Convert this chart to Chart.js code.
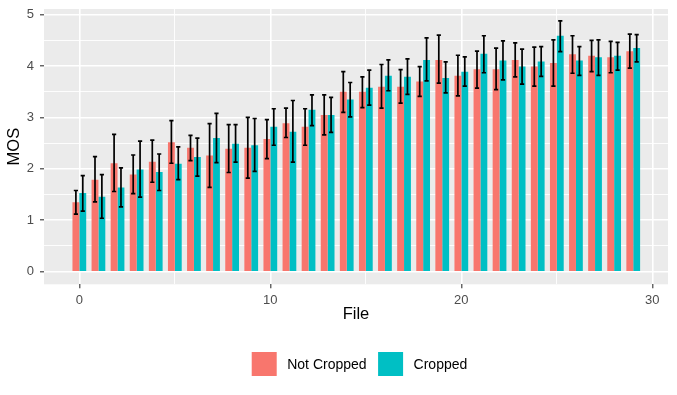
<!DOCTYPE html>
<html>
<head>
<meta charset="utf-8">
<title>MOS per file</title>
<script src="https://cdn.jsdelivr.net/npm/chart.js@4.4.1/dist/chart.umd.min.js"></script>
<style>
    html, body { margin: 0; padding: 0; background: #ffffff; }
    #chart-wrap { width: 677px; height: 395px; }
</style>
</head>
<body>
<div id="chart-wrap"><canvas id="mos-chart" width="677" height="395"></canvas></div>
<script>
// Data
const files = [0, 1, 2, 3, 4, 5, 6, 7, 8, 9, 10, 11, 12, 13, 14, 15, 16, 17, 18, 19, 20, 21, 22, 23, 24, 25, 26, 27, 28, 29];

const notCropped     = [1.35, 1.79, 2.11, 1.89, 2.14, 2.52, 2.41, 2.26, 2.39, 2.41, 2.58, 2.89, 2.82, 3.05, 3.50, 3.50, 3.60, 3.60, 3.70, 4.12, 3.81, 3.94, 3.94, 4.12, 3.99, 4.06, 4.23, 4.20, 4.17, 4.29];
const notCroppedLow  = [1.12, 1.36, 1.56, 1.52, 1.74, 2.11, 2.16, 1.64, 1.93, 1.82, 2.20, 2.61, 2.46, 2.66, 3.10, 3.19, 3.18, 3.28, 3.41, 3.67, 3.42, 3.57, 3.54, 3.79, 3.61, 3.61, 3.86, 3.89, 3.87, 3.96];
const notCroppedHigh = [1.58, 2.24, 2.67, 2.27, 2.56, 2.94, 2.65, 2.88, 2.86, 3.00, 2.96, 3.18, 3.17, 3.44, 3.89, 3.79, 4.03, 3.93, 3.99, 4.60, 4.21, 4.29, 4.35, 4.45, 4.37, 4.51, 4.59, 4.50, 4.48, 4.62];

const cropped     = [1.53, 1.46, 1.64, 1.99, 1.94, 2.10, 2.23, 2.60, 2.49, 2.46, 2.82, 2.72, 3.15, 3.05, 3.35, 3.58, 3.81, 3.79, 4.12, 3.77, 3.89, 4.24, 4.11, 3.99, 4.09, 4.59, 4.11, 4.17, 4.20, 4.35];
const croppedLow  = [1.18, 1.04, 1.26, 1.45, 1.58, 1.79, 1.86, 2.12, 2.13, 1.95, 2.46, 2.13, 2.84, 2.71, 3.01, 3.24, 3.52, 3.45, 3.71, 3.48, 3.61, 3.87, 3.73, 3.65, 3.80, 4.28, 3.82, 3.82, 3.92, 4.08];
const croppedHigh = [1.87, 1.89, 2.02, 2.54, 2.29, 2.43, 2.60, 3.08, 2.86, 2.98, 3.17, 3.33, 3.44, 3.39, 3.68, 3.92, 4.12, 4.14, 4.55, 4.08, 4.18, 4.59, 4.49, 4.33, 4.38, 4.88, 4.38, 4.51, 4.46, 4.61];

const xTicks = [0, 5, 10, 15, 20, 25, 30];        // labelled: 0, 10, 20, 30
const yTicks = [0, 0.5, 1, 1.5, 2, 2.5, 3, 3.5, 4, 4.5, 5];  // labelled: integers

const FONT = "'Liberation Sans', Arial, Helvetica, sans-serif";

function isMajorX(v) { return v % 10 === 0; }
function isMajorY(v) { return Number.isInteger(v); }

// scriptable grid helpers (context.tick can be missing)
function tickVal(ctx) { return ctx && ctx.tick ? ctx.tick.value : NaN; }

// grey panel behind the bars (ggplot style)
const panelBackground = {
    id: 'panelBackground',
    beforeDraw(chart) {
        const a = chart.chartArea;
        const ctx = chart.ctx;
        ctx.save();
        ctx.fillStyle = '#EBEBEB';
        ctx.fillRect(a.left, a.top, a.right - a.left, a.bottom - a.top);
        ctx.restore();
    }
};

// error bars on top of every bar
const errorBars = {
    id: 'errorBars',
    afterDatasetsDraw(chart) {
        const ctx = chart.ctx;
        const xScale = chart.scales.x;
        const yScale = chart.scales.y;
        const capHalf = (xScale.getPixelForValue(0.11) - xScale.getPixelForValue(0));
        ctx.save();
        ctx.strokeStyle = '#000000';
        ctx.lineWidth = 1.7;
        chart.data.datasets.forEach((ds, di) => {
            const meta = chart.getDatasetMeta(di);
            meta.data.forEach((bar, i) => {
                const yLo = yScale.getPixelForValue(ds.errLow[i]);
                const yHi = yScale.getPixelForValue(ds.errHigh[i]);
                ctx.beginPath();
                ctx.moveTo(bar.x, yLo);
                ctx.lineTo(bar.x, yHi);
                ctx.moveTo(bar.x - capHalf, yLo);
                ctx.lineTo(bar.x + capHalf, yLo);
                ctx.moveTo(bar.x - capHalf, yHi);
                ctx.lineTo(bar.x + capHalf, yHi);
                ctx.stroke();
            });
        });
        ctx.restore();
    }
};

// legend below the plot, keys as filled squares
const bottomLegend = {
    id: 'bottomLegend',
    afterDraw(chart) {
        const ctx = chart.ctx;
        const keyW = 25, keyH = 24, textGap = 10.5, itemGap = 11.5;
        const centerX = 359.5, centerY = 364;
        ctx.save();
        ctx.font = '14px ' + FONT;
        const items = chart.data.datasets.map(ds => ({
            label: ds.label,
            color: ds.backgroundColor,
            w: keyW + textGap + ctx.measureText(ds.label).width
        }));
        const total = items.reduce((s, it) => s + it.w, 0) + itemGap * (items.length - 1);
        let x = centerX - total / 2;
        items.forEach(it => {
            ctx.fillStyle = it.color;
            ctx.fillRect(x, centerY - keyH / 2, keyW, keyH);
            ctx.fillStyle = '#000000';
            ctx.textBaseline = 'middle';
            ctx.textAlign = 'left';
            ctx.fillText(it.label, x + keyW + textGap, centerY + 1);
            x += it.w + itemGap;
        });
        ctx.restore();
    }
};

document.addEventListener('DOMContentLoaded', function() {
    const canvas = document.getElementById('mos-chart');

    new Chart(canvas, {
        type: 'bar',
        data: {
            datasets: [{
                label: 'Not Cropped',
                data: files.map((f, i) => ({ x: f, y: notCropped[i] })),
                errLow: notCroppedLow,
                errHigh: notCroppedHigh,
                backgroundColor: '#F8766D'
            }, {
                label: 'Cropped',
                data: files.map((f, i) => ({ x: f, y: cropped[i] })),
                errLow: croppedLow,
                errHigh: croppedHigh,
                backgroundColor: '#00BFC4'
            }]
        },
        options: {
            responsive: false,
            animation: false,
            devicePixelRatio: 1,
            barPercentage: 1.0,
            categoryPercentage: 0.72,
            layout: { padding: { top: 9, right: 9, left: 0, bottom: 0 } },
            plugins: {
                legend: { display: false },
                tooltip: { enabled: false }
            },
            scales: {
                x: {
                    type: 'linear',
                    min: -1.85,
                    max: 30.82,
                    offset: false,
                    afterBuildTicks: s => { s.ticks = xTicks.map(v => ({ value: v })); },
                    afterFit: s => { s.height = 110.7; s.paddingLeft = 0; s.paddingRight = 0; },
                    border: { display: false },
                    grid: {
                        offset: false,
                        color: '#FFFFFF',
                        lineWidth: ctx => isMajorX(tickVal(ctx)) ? 1.6 : 0.9,
                        tickColor: ctx => isMajorX(tickVal(ctx)) ? '#333333' : 'rgba(0,0,0,0)',
                        tickWidth: 1.1,
                        tickLength: 4
                    },
                    ticks: {
                        autoSkip: false,
                        maxRotation: 0,
                        padding: 4,
                        color: '#4D4D4D',
                        font: { family: FONT, size: 13 },
                        callback: v => isMajorX(v) ? String(v) : ''
                    },
                    title: {
                        display: true,
                        text: 'File',
                        color: '#000000',
                        font: { family: FONT, size: 16.5 },
                        padding: { top: 4, bottom: 71 }
                    }
                },
                y: {
                    type: 'linear',
                    min: -0.245,
                    max: 5.11,
                    afterBuildTicks: s => { s.ticks = yTicks.map(v => ({ value: v })); },
                    afterFit: s => { s.width = 44; s.paddingTop = 0; s.paddingBottom = 0; },
                    border: { display: false },
                    grid: {
                        color: '#FFFFFF',
                        lineWidth: ctx => isMajorY(tickVal(ctx)) ? 1.6 : 0.9,
                        tickColor: ctx => isMajorY(tickVal(ctx)) ? '#333333' : 'rgba(0,0,0,0)',
                        tickWidth: 1.1,
                        tickLength: 4
                    },
                    ticks: {
                        autoSkip: false,
                        padding: 6,
                        color: '#4D4D4D',
                        font: { family: FONT, size: 13 },
                        callback: v => isMajorY(v) ? String(v) : ''
                    },
                    title: {
                        display: true,
                        text: 'MOS',
                        color: '#000000',
                        font: { family: FONT, size: 16.5 },
                        padding: { top: 5, bottom: 0 }
                    }
                }
            }
        },
        plugins: [panelBackground, errorBars, bottomLegend]
    });
});
</script>
</body>
</html>
